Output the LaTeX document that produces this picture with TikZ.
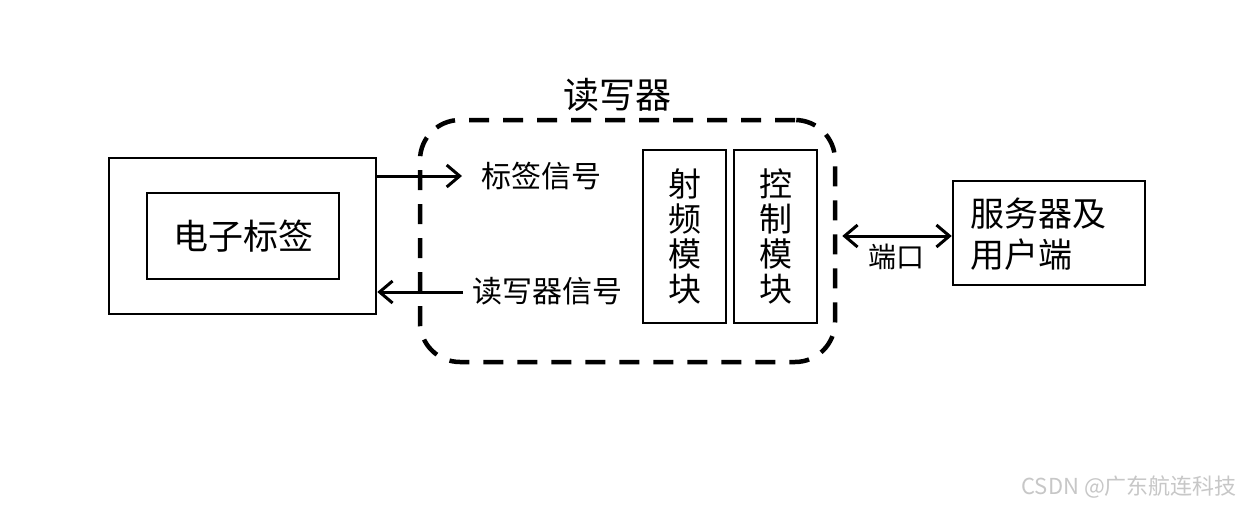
\documentclass[tikz,border=0pt]{standalone}
\usepackage{fontspec}
\setmainfont{Liberation Sans}
\newfontfamily\cjk{Noto Sans CJK SC}
\usetikzlibrary{arrows.meta}
\begin{document}
\begin{tikzpicture}[x=1pt,y=-1pt,
  box/.style={draw, line width=2.5pt, inner sep=0pt},
  arr/.style={line width=3pt, -{Straight Barb[length=13pt,width=22pt,line width=3pt]}},
  darr/.style={line width=3pt, {Straight Barb[length=13pt,width=22pt,line width=3pt]}-{Straight Barb[length=13pt,width=22pt,line width=3pt]}},
  big/.style={font=\cjk\fontsize{35}{38}\selectfont},
  mid/.style={font=\cjk\fontsize{30}{32}\selectfont},
  vert/.style={font=\cjk\fontsize{33}{35}\selectfont, align=center, inner sep=0pt}
]
\useasboundingbox (0,0) rectangle (1242,504);
\fill[white] (0,0) rectangle (1242,504);

% tag
\node[box, minimum width=267pt, minimum height=156pt] (tag) at (242.5,236) {};
\node[box, minimum width=192pt, minimum height=86pt, big] (inner) at (243,236) {电子标签};

% reader
\node[draw, line width=4.5pt, dash pattern=on 20pt off 14pt, rounded corners=40pt,
  minimum width=415pt, minimum height=242pt, inner sep=0pt] (reader) at (627.5,241) {};
\node[font=\cjk\fontsize{36}{38}\selectfont] (rtitle) at (617,95) {读写器};
\node[box, minimum width=83pt, minimum height=173pt] (rf) at (684.5,236.5) {};
\node[vert] (rft) at (rf.center) {射\\频\\模\\块};
\node[box, minimum width=83pt, minimum height=173pt] (ctl) at (775.5,236.5) {};
\node[vert] (ctlt) at (ctl.center) {控\\制\\模\\块};

% signals
\coordinate (a1) at (462,176);
\draw[arr] (tag.east |- a1) -- (a1);
\node[mid, anchor=west, inner sep=0pt] (l1) at (481,176) {标签信号};
\coordinate (a2) at (463,292);
\draw[arr] (a2) -- (tag.east |- a2);
\node[mid, anchor=west, inner sep=0pt] (l2) at (472,291) {读写器信号};

% server
\node[box, minimum width=192pt, minimum height=104pt] (srv) at (1049,233) {};
\node[font=\cjk\fontsize{34}{41}\selectfont, align=left, anchor=west, inner sep=0pt] (srvt) at (970,234) {服务器及\\用户端};
\coordinate (p0) at ([xshift=5pt,yshift=5pt]reader.east);
\draw[darr] (p0) -- (srv.west |- p0);
\node[font=\cjk\fontsize{28}{30}\selectfont] (port) at (896,257) {端口};

% watermark
\node[font=\cjk\fontsize{22}{24}\selectfont, text=black!22, anchor=east, inner sep=0pt] (wm) at (1237,487) {CSDN @广东航连科技};
\end{tikzpicture}
\end{document}
